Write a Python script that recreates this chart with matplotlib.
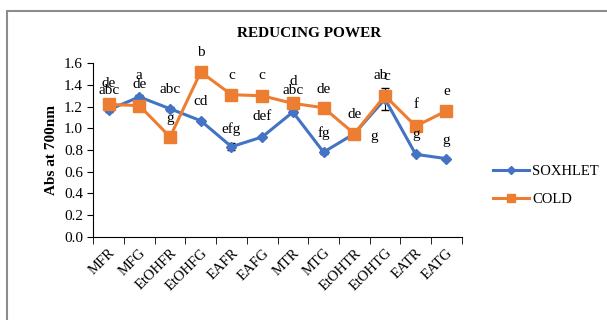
import matplotlib.pyplot as plt
from matplotlib.lines import Line2D
from matplotlib.patches import Rectangle

plt.rcParams['font.family'] = ['Liberation Serif', 'DejaVu Serif']

# categories and series
samples = ['MFR', 'MFG', 'EtOHFR', 'EtOHFG', 'EAFR', 'EAFG',
           'MTR', 'MTG', 'EtOHTR', 'EtOHTG', 'EATR', 'EATG']
soxhlet = [1.17, 1.29, 1.18, 1.07, 0.83, 0.92, 1.15, 0.78, 0.95, 1.27, 0.76, 0.72]
soxhlet_err = [0.02, 0.02, 0.02, 0.01, 0.03, 0.01, 0.02, 0.02, 0.01, 0.10, 0.01, 0.01]
cold = [1.22, 1.21, 0.92, 1.52, 1.31, 1.30, 1.23, 1.19, 0.95, 1.30, 1.02, 1.16]
cold_err = [0.01, 0.01, 0.01, 0.01, 0.01, 0.01, 0.01, 0.01, 0.01, 0.02, 0.01, 0.01]

# significance letters (index, y, text)
sox_letters = [(0, 1.35, 'abc'), (1, 1.49, 'a'), (2, 1.36, 'abc'), (3, 1.245, 'cd'),
               (4, 0.99, 'efg'), (5, 1.11, 'def'), (6, 1.35, 'abc'), (7, 0.96, 'fg'),
               (8.65, 0.92, 'g'), (8.85, 1.49, 'ab'), (10, 0.94, 'g'), (11, 0.89, 'g')]
cold_letters = [(0, 1.415, 'de'), (1, 1.40, 'de'), (2, 1.09, 'g'), (3, 1.70, 'b'),
                (4, 1.49, 'c'), (5, 1.49, 'c'), (6, 1.43, 'd'), (7, 1.36, 'de'),
                (8, 1.13, 'de'), (9.05, 1.475, 'c'), (10, 1.215, 'f'), (11, 1.34, 'e')]

fig = plt.figure(figsize=(6.07, 3.2), dpi=100)
fig.patches.append(Rectangle((7 / 607, -0.1), 1.2, 1 - 11 / 320 + 0.1,
                             transform=fig.transFigure, fill=False,
                             edgecolor='#8c8c8c', linewidth=1.5))
ax = fig.add_axes([0.1537, 0.2603, 0.607, 0.542])

x = list(range(len(samples)))
ax.errorbar(x, soxhlet, yerr=soxhlet_err, color='#4472C4', marker='D', markersize=5,
            linewidth=2.2, ecolor='black', elinewidth=0.8, capsize=3)
ax.errorbar(x, cold, yerr=cold_err, color='#ED7D31', marker='s', markersize=8,
            linewidth=2.2, ecolor='black', elinewidth=0.8, capsize=3)

for xi, yi, t in sox_letters + cold_letters:
    ax.text(xi, yi, t, ha='center', va='center', fontsize=11, clip_on=False)

ax.set_xlim(-0.5, len(samples) - 0.5)
ax.set_ylim(0, 1.6)
ax.set_yticks([0.0, 0.2, 0.4, 0.6, 0.8, 1.0, 1.2, 1.4, 1.6])
ax.set_yticklabels(['%.1f' % v for v in ax.get_yticks()], fontsize=11)
ax.set_xticks(x)
ax.set_xticklabels(samples, rotation=45, ha='right', rotation_mode='anchor', fontsize=10.5)
ax.tick_params(axis='x', which='major', length=0, pad=7)
ax.set_xticks([i - 0.5 for i in range(len(samples) + 1)], minor=True)
ax.tick_params(axis='x', which='minor', length=5, direction='out')
ax.tick_params(axis='y', length=4, direction='out')
ax.spines['top'].set_visible(False)
ax.spines['right'].set_visible(False)

ax.set_ylabel('Abs at 700nm', fontsize=11, fontweight='bold')
fig.text(0.51, 0.895, 'REDUCING POWER', ha='center', va='center',
         fontsize=11, fontweight='bold')
handles = [Line2D([], [], color='#4472C4', marker='D', markersize=4, linewidth=2.2),
           Line2D([], [], color='#ED7D31', marker='s', markersize=6, linewidth=2.2)]
fig.legend(handles, ['SOXHLET', 'COLD'], loc='center left', bbox_to_anchor=(0.79, 0.42),
           frameon=False, fontsize=10.5, handlelength=2.5, labelspacing=1.0,
           handletextpad=0.2)

fig.savefig('out.png', dpi=100)
